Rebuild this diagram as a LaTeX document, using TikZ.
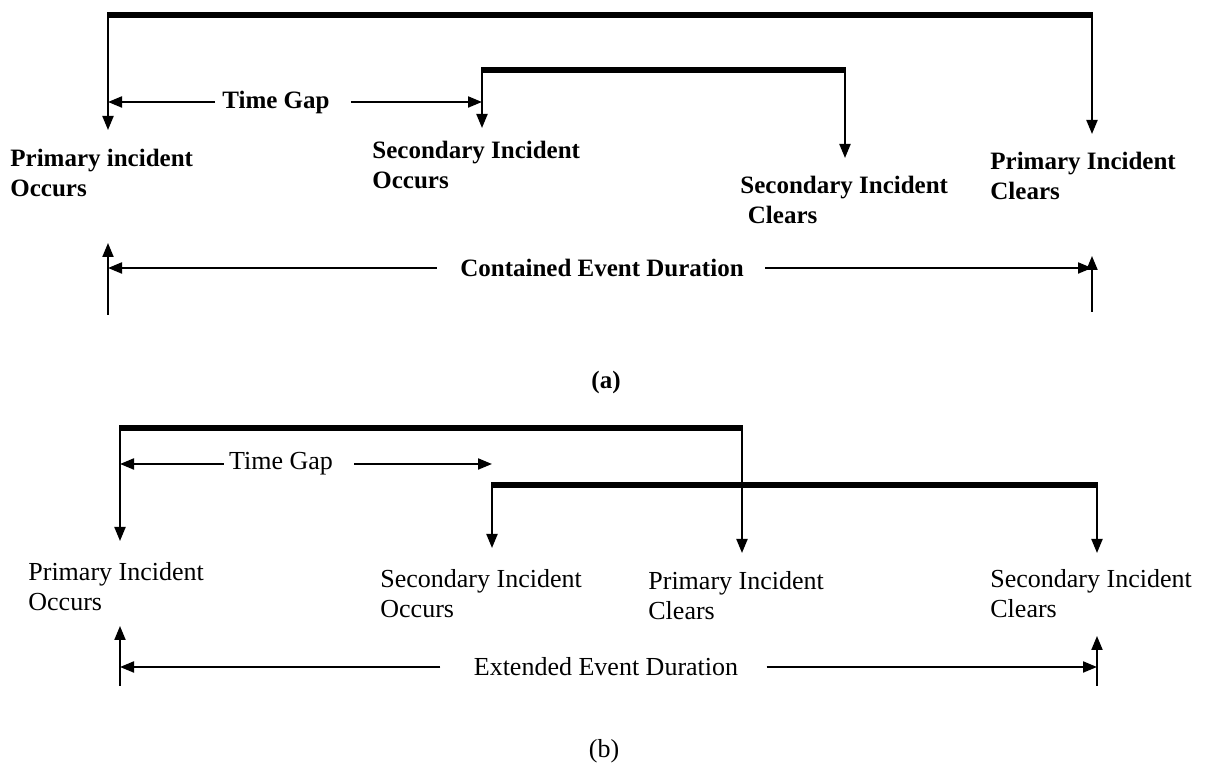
\documentclass[tikz,border=0pt]{standalone}
\usepackage{fontspec}
\setmainfont{Liberation Serif}
\usetikzlibrary{arrows.meta,positioning,calc}
\tikzset{
	bar/.style={line width=2.8pt},
	arr/.style={line width=1pt,-{Triangle[length=7pt,width=5.5pt]}},
	lbl/.style={anchor=north west,align=left,inner sep=0pt},
	mid/.style={inner sep=0pt}
}
\begin{document}
\begin{tikzpicture}[x=0.5pt,y=-0.5pt]
		\useasboundingbox (0,0) rectangle (1207,779);
		% (a)
		\begin{scope}[font=\fontsize{12.5}{15}\selectfont\bfseries]
		\coordinate (aPo) at (108,15);
		\coordinate (aPc) at (1092,15);
		\coordinate (aSo) at (482,70);
		\coordinate (aSc) at (845,70);
		\coordinate (aPoTip) at (108,130);
		\coordinate (aPcTip) at (1092,134);
		\coordinate (aSoTip) at (482,128);
		\coordinate (aScTip) at (845,158);
		\node[lbl] (aPoL) at (10,149) {Primary incident\\Occurs};
		\node[lbl] (aSoL) at (372,141) {Secondary Incident\\Occurs};
		\node[lbl] (aScL) at (740,176) {Secondary Incident\\\hspace{0.3em}Clears};
		\node[lbl] (aPcL) at (990,152) {Primary Incident\\Clears};
		\node[mid] (aTg) at (276,102) {Time Gap};
		\node[mid] (aDur) at (602,268) {Contained Event Duration};
		\node[mid] (aCap) at (606,382) {(a)};
		\coordinate (aL0) at (108,315);
		\coordinate (aL1) at (108,243);
		\coordinate (aR0) at (1092,312);
		\coordinate (aR1) at (1092,256);
		\end{scope}
		\draw[bar] ([xshift=-0.5pt]aPo) -- ([xshift=0.5pt]aPc);
		\draw[bar] ([xshift=-0.5pt]aSo) -- ([xshift=0.5pt]aSc);
		\draw[arr] (aPo) -- (aPoTip);
		\draw[arr] (aPc) -- (aPcTip);
		\draw[arr] (aSo) -- (aSoTip);
		\draw[arr] (aSc) -- (aScTip);
		\draw[arr] ([xshift=-3.5pt]aTg.west) -- (aTg.west -| aPo);
		\draw[arr] ([xshift=10.5pt]aTg.east) -- (aTg.east -| aSo);
		\draw[arr] (aL0) -- (aL1);
		\draw[arr] (aR0) -- (aR1);
		\draw[arr] ([xshift=-11.5pt]aDur.west) -- (aDur.west -| aL0);
		\draw[arr] ([xshift=10.5pt]aDur.east) -- (aDur.east -| aR0);
		% (b)
		\begin{scope}[font=\fontsize{13}{15}\selectfont]
		\coordinate (bPo) at (120,428);
		\coordinate (bPc) at (742,428);
		\coordinate (bSo) at (492,485);
		\coordinate (bSc) at (1097,485);
		\coordinate (bPoTip) at (120,541);
		\coordinate (bPcTip) at (742,553);
		\coordinate (bSoTip) at (492,548);
		\coordinate (bScTip) at (1097,553);
		\node[lbl] (bPoL) at (28,562) {Primary Incident\\Occurs};
		\node[lbl] (bSoL) at (380,569) {Secondary Incident\\Occurs};
		\node[lbl] (bPcL) at (648,571) {Primary Incident\\Clears};
		\node[lbl] (bScL) at (990,569) {Secondary Incident\\Clears};
		\node[mid] (bTg) at (281,464) {Time Gap};
		\node[mid] (bDur) at (606,667) {Extended Event Duration};
		\node[mid] (bCap) at (604,751) {(b)};
		\coordinate (bL0) at (120,686);
		\coordinate (bL1) at (120,626);
		\coordinate (bR0) at (1097,686);
		\coordinate (bR1) at (1097,636);
		\end{scope}
		\draw[bar] ([xshift=-0.5pt]bPo) -- ([xshift=0.5pt]bPc);
		\draw[bar] ([xshift=-0.5pt]bSo) -- ([xshift=0.5pt]bSc);
		\draw[arr] (bPo) -- (bPoTip);
		\draw[arr] (bPc) -- (bPcTip);
		\draw[arr] (bSo) -- (bSoTip);
		\draw[arr] (bSc) -- (bScTip);
		\draw[arr] ([xshift=-2.5pt]bTg.west) -- (bTg.west -| bPo);
		\draw[arr] ([xshift=10.5pt]bTg.east) -- (bTg.east -| bSo);
		\draw[arr] (bL0) -- (bL1);
		\draw[arr] (bR0) -- (bR1);
		\draw[arr] ([xshift=-16.5pt]bDur.west) -- (bDur.west -| bL0);
		\draw[arr] ([xshift=14pt]bDur.east) -- (bDur.east -| bR0);
	\end{tikzpicture}
\end{document}
